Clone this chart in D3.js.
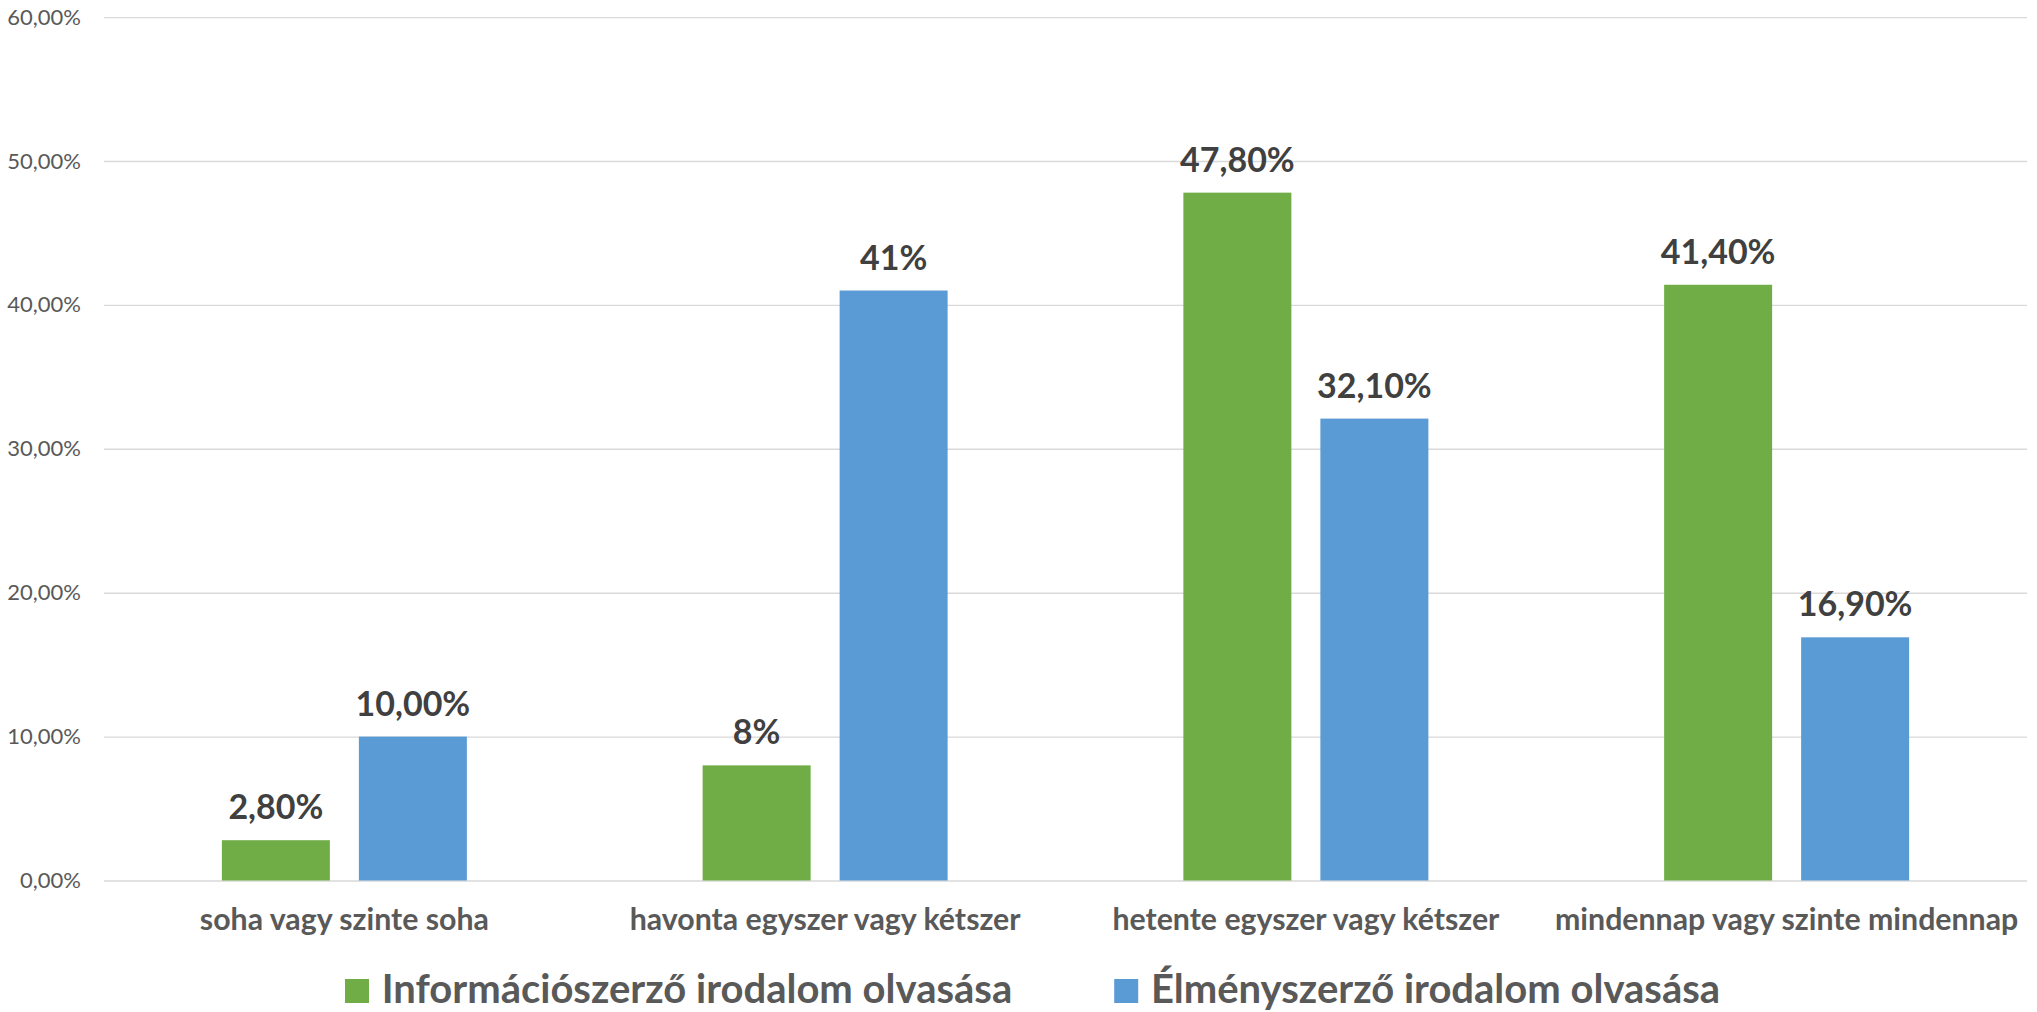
<!DOCTYPE html>
<html>
<head>
<meta charset="utf-8">
<script src="https://cdn.jsdelivr.net/npm/d3@7"></script>
<style>
  html, body { margin: 0; padding: 0; background: #ffffff; }
  svg { display: block; }
</style>
</head>
<body>
<svg id="chart" width="2037" height="1012"></svg>
<script>
const categories = [
  "soha vagy szinte soha",
  "havonta egyszer vagy kétszer",
  "hetente egyszer vagy kétszer",
  "mindennap vagy szinte mindennap"
];
const seriesNames = ["Információszerző irodalom olvasása", "Élményszerző irodalom olvasása"];
const infoValues = [2.8, 8, 47.8, 41.4];
const elmenyValues = [10, 41, 32.1, 16.9];
const infoLabels = ["2,80%", "8%", "47,80%", "41,40%"];
const elmenyLabels = ["10,00%", "41%", "32,10%", "16,90%"];
const yTicks = [0, 10, 20, 30, 40, 50, 60];
const seriesColors = ["#70AD47", "#5B9BD5"];

const W = 2037, H = 1012;
const plot = { left: 104, right: 2027, top: 17.1, bottom: 880.5 };
const FONT = "Lato, 'Open Sans', sans-serif";

const svg = d3.select("#chart");

const series = [
  { name: seriesNames[0], values: infoValues, labels: infoLabels, color: seriesColors[0] },
  { name: seriesNames[1], values: elmenyValues, labels: elmenyLabels, color: seriesColors[1] }
];

const x0 = d3.scaleBand().domain(categories).range([plot.left, plot.right]).padding(0);
const x1 = d3.scaleBand().domain([0, 1]).range([0, x0.bandwidth()])
  .paddingInner(0.2117).paddingOuter(0.8604);
const y = d3.scaleLinear().domain([0, 60]).range([plot.bottom, plot.top]);

const fmtTick = v => d3.format(".2f")(v).replace(".", ",") + "%";

// Y axis with gridlines
const yAxis = svg.append("g")
  .attr("transform", `translate(${plot.left},0)`)
  .call(d3.axisLeft(y).tickValues(yTicks).tickFormat(fmtTick)
    .tickSize(-(plot.right - plot.left)).tickPadding(23));
yAxis.select(".domain").remove();
yAxis.selectAll(".tick line").attr("stroke", "#D9D9D9").attr("stroke-width", 1.4);
yAxis.selectAll(".tick text")
  .attr("fill", "#595959")
  .style("font-family", FONT)
  .style("font-size", "22px");

// Bars
const groups = svg.append("g").selectAll("g")
  .data(categories)
  .join("g")
  .attr("transform", d => `translate(${x0(d)},0)`);

groups.selectAll("rect")
  .data((d, i) => series.map((s, si) => ({ si, v: s.values[i], color: s.color })))
  .join("rect")
  .attr("x", d => x1(d.si))
  .attr("width", x1.bandwidth())
  .attr("y", d => y(d.v))
  .attr("height", d => y(0) - y(d.v))
  .attr("fill", d => d.color);

groups.selectAll("text.val")
  .data((d, i) => series.map((s, si) => ({ si, v: s.values[i], label: s.labels[i] })))
  .join("text")
  .attr("class", "val")
  .attr("x", d => x1(d.si) + x1.bandwidth() / 2)
  .attr("y", d => y(d.v) - 21)
  .attr("text-anchor", "middle")
  .attr("fill", "#404040")
  .style("font-family", FONT)
  .style("font-weight", "700")
  .style("font-size", "34px")
  .text(d => d.label);

// X axis labels
const xAxis = svg.append("g")
  .attr("transform", `translate(0,${plot.bottom})`)
  .call(d3.axisBottom(x0).tickSize(0).tickPadding(28));
xAxis.select(".domain").remove();
xAxis.selectAll(".tick text")
  .attr("fill", "#595959")
  .style("font-family", FONT)
  .style("font-weight", "700")
  .style("font-size", "30.3px");

// Legend
const legend = svg.append("g");
let lx = 345;
series.forEach((s, i) => {
  legend.append("rect")
    .attr("x", lx).attr("y", 979).attr("width", 24).attr("height", 24)
    .attr("fill", s.color);
  const t = legend.append("text")
    .attr("x", lx + 36.7).attr("y", 1003)
    .attr("fill", "#595959")
    .style("font-family", FONT)
    .style("font-weight", "700")
    .style("font-size", "40px")
    .text(s.name);
  lx = lx + 36.7 + t.node().getComputedTextLength() + 102;
});
</script>
</body>
</html>
